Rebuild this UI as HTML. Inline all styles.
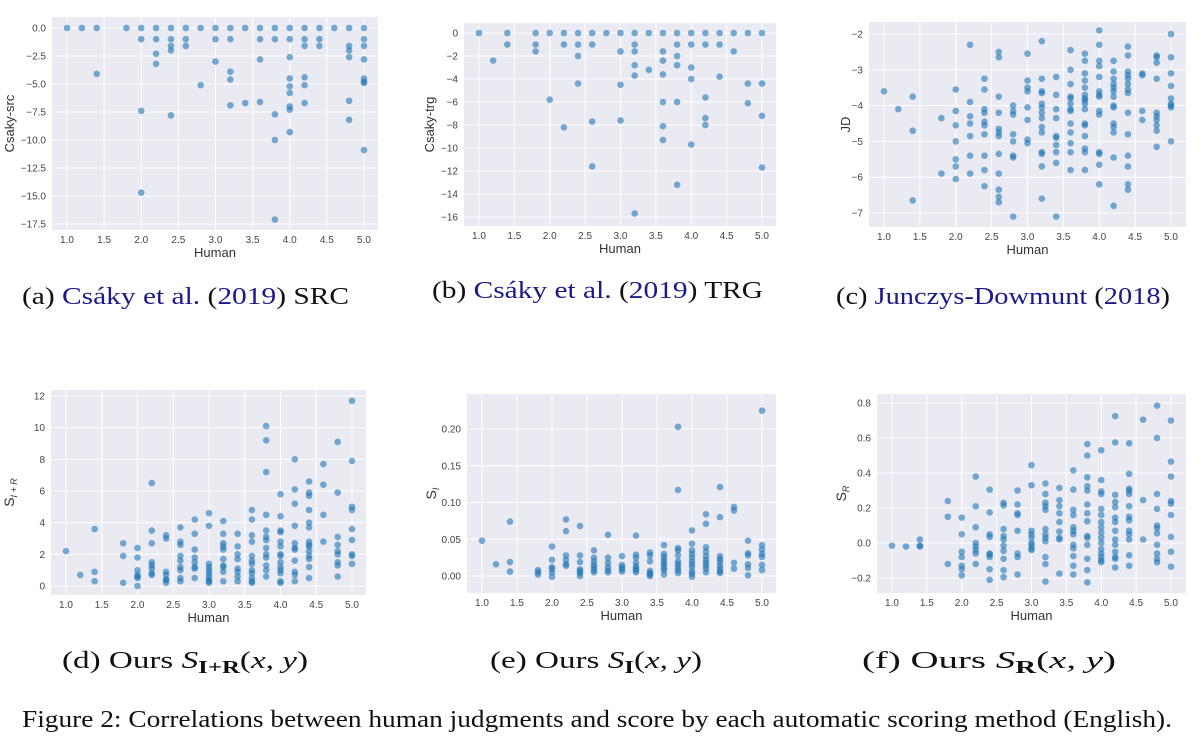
<!DOCTYPE html>
<html><head><meta charset="utf-8"><style>
html,body{margin:0;padding:0;background:#fff;}
svg{display:block;}
.tick{font-family:"Liberation Sans",sans-serif;font-size:10px;fill:#444;}
.axt{font-family:"Liberation Sans",sans-serif;font-size:13px;fill:#333;}
.cap{font-family:"Liberation Serif",serif;font-size:24px;fill:#111;}
.lnk{fill:#1a1a8a;}
</style></head><body>
<svg id="fig" width="1200" height="742" viewBox="0 0 1200 742" xmlns="http://www.w3.org/2000/svg">
<g id="panels"></g>
<text class="cap" x="22" y="304" textLength="327" lengthAdjust="spacingAndGlyphs">(a) <tspan class="lnk">Csáky et al.</tspan> (<tspan class="lnk">2019</tspan>) SRC</text>
<text class="cap" x="432" y="298" textLength="331" lengthAdjust="spacingAndGlyphs">(b) <tspan class="lnk">Csáky et al.</tspan> (<tspan class="lnk">2019</tspan>) TRG</text>
<text class="cap" x="836" y="304" textLength="334" lengthAdjust="spacingAndGlyphs">(c) <tspan class="lnk">Junczys-Dowmunt</tspan> (<tspan class="lnk">2018</tspan>)</text>
<text class="cap" x="62" y="668" font-size="26" textLength="246" lengthAdjust="spacingAndGlyphs">(d)  Ours <tspan font-style="italic">S</tspan><tspan font-size="18" dy="5" font-weight="bold">I+R</tspan><tspan dy="-5">(</tspan><tspan font-style="italic">x, y</tspan>)</text>
<text class="cap" x="490" y="668" font-size="26" textLength="212" lengthAdjust="spacingAndGlyphs">(e)  Ours <tspan font-style="italic">S</tspan><tspan font-size="18" dy="5" font-weight="bold">I</tspan><tspan dy="-5">(</tspan><tspan font-style="italic">x, y</tspan>)</text>
<text class="cap" x="862" y="668" font-size="26" textLength="254" lengthAdjust="spacingAndGlyphs">(f)  Ours <tspan font-style="italic">S</tspan><tspan font-size="18" dy="5" font-weight="bold">R</tspan><tspan dy="-5">(</tspan><tspan font-style="italic">x, y</tspan>)</text>
<text class="cap" x="22" y="727" font-size="21" textLength="1150" lengthAdjust="spacingAndGlyphs">Figure 2: Correlations between human judgments and score by each automatic scoring method (English).</text>
</svg>
<script>
const humanCols = [1.0,1.2,1.4,1.8,2.0,2.2,2.4,2.6,2.8,3.0,3.2,3.4,3.6,3.8,4.0,4.2,4.4,4.6,4.8,5.0];
const xTicks = [1.0,1.5,2.0,2.5,3.0,3.5,4.0,4.5,5.0];
const scoresA = [[0],[0],[0,-4.1],[0],[0,-1,-7.4,-14.7],[0,-1,-2.3,-3.2],[0,-1,-1.6,-2.0,-7.8],[0,-1,-1.6],[0,-5.1],[0,-1,-3.0],[0,-1,-3.9,-4.6,-6.9],[0,-6.7],[0,-1,-2.8,-6.6],[0,-1,-7.7,-10.0,-17.1],[0,-1,-2.6,-4.5,-5.2,-5.8,-7.0,-7.3,-9.3],[0,-1,-1.6,-4.4,-5.1,-6.7],[0,-1,-1.6],[0],[0,-1.6,-2.0,-2.6,-6.5,-8.2],[0,-1,-1.6,-2.8,-4.5,-4.8,-4.9,-10.9]];
const yTicksA = [0,-2.5,-5,-7.5,-10,-12.5,-15,-17.5];
const scoresB = [[0],[-2.4],[0,-1],[0,-1,-1.6],[0,-5.8],[0,-1,-8.2],[0,-1,-2,-4.4],[0,-1,-7.7,-11.6],[0],[0,-1.6,-4.5,-7.6],[0,-1,-1.6,-2.8,-3.7,-15.7],[0,-3.2],[0,-1.6,-2.4,-3.6,-6.0,-8.1,-9.3],[0,-1,-2,-2.8,-6.0,-13.2],[0,-1,-3,-4,-9.7],[0,-1,-5.6,-7.4,-8.0],[0,-1,-3.8],[0,-1.6],[0,-4.4,-6.1],[0,-4.4,-7.2,-11.7]];
const yTicksB = [0,-2,-4,-6,-8,-10,-12,-14,-16];
const scoresC = [[-3.6],[-4.1],[-3.75,-4.7,-6.65],[-4.35,-5.9],[-3.55,-4.15,-4.55,-5.0,-5.5,-5.7,-6.05],[-2.3,-3.9,-4.3,-4.5,-4.85,-5.4,-5.9],[-3.25,-3.55,-4.1,-4.2,-4.45,-4.55,-4.8,-5.4,-5.8,-6.25],[-2.5,-2.65,-3.75,-4.2,-4.65,-4.75,-4.85,-5.35,-5.9,-6.35,-6.55,-6.7],[-4.0,-4.15,-4.25,-4.8,-5.0,-5.4,-5.45,-7.1],[-2.55,-3.3,-3.5,-3.6,-4.05,-4.4,-4.95,-5.05],[-2.2,-3.25,-3.6,-3.65,-3.95,-4.05,-4.2,-4.35,-4.6,-4.75,-5.3,-5.35,-5.7,-6.6],[-3.2,-3.7,-4.1,-4.35,-4.85,-4.9,-5.1,-5.3,-5.6,-7.1],[-2.45,-3.0,-3.4,-3.75,-3.8,-3.95,-4.1,-4.15,-4.5,-4.75,-5.05,-5.3,-5.8],[-2.55,-2.75,-3.1,-3.3,-3.5,-3.7,-3.8,-3.85,-3.95,-4.1,-4.5,-4.55,-4.85,-5.2,-5.3,-5.8],[-1.9,-2.3,-2.75,-2.9,-3.2,-3.6,-3.7,-3.75,-4.15,-4.25,-5.3,-5.35,-5.65,-6.2],[-2.75,-3.05,-3.25,-3.4,-3.5,-3.6,-3.75,-4.0,-4.05,-4.5,-4.6,-4.75,-5.45,-6.8],[-2.35,-2.6,-3.05,-3.15,-3.25,-3.4,-3.55,-3.65,-4.2,-4.8,-5.4,-5.7,-6.2,-6.35],[-3.1,-3.15,-4.15,-4.4],[-2.6,-2.65,-2.8,-3.25,-4.2,-4.3,-4.4,-4.55,-4.7,-5.15],[-2.0,-2.65,-3.1,-3.45,-3.8,-3.95,-4.0,-4.05,-5.0]];
const yTicksC = [-2,-3,-4,-5,-6,-7];
const scoresD = [[2.2],[0.7],[3.6,0.9,0.3],[2.7,1.9,0.2],[2.4,1.8,1.0,0.7,0.6,0.5,0.0],[6.5,3.5,2.7,1.5,1.3,1.1,0.8,0.7],[3.2,3.0,0.9,0.7,0.4,0.4,0.2],[3.7,2.8,2.6,1.9,1.6,1.2,1.0,0.5,0.3],[4.2,3.3,2.3,1.8,1.5,1.2,1.1,0.5],[4.6,3.8,1.4,1.2,1.0,0.8,0.6,0.4,0.3,0.2],[4.1,3.3,2.7,2.5,2.3,1.7,1.3,1.2,0.9,0.3],[3.3,2.5,2.0,1.7,1.1,0.9,0.6,0.3],[4.8,4.2,3.2,2.8,1.9,1.6,1.4,1.0,0.8,0.5,0.3,0.2],[10.1,9.2,7.2,4.5,3.5,3.1,2.9,2.4,2.0,1.8,1.3,1.0,0.6],[5.8,4.4,3.5,3.4,2.8,2.5,2.0,1.9,1.5,1.2,1.0,0.8,0.3,0.2],[8.0,6.1,5.2,3.8,2.7,2.4,2.3,1.6,0.9,0.7,0.3],[6.6,5.9,5.7,4.8,4.0,3.7,2.8,2.6,2.5,2.2,1.9,1.7,1.2,0.5],[7.7,6.4,4.5,2.8],[9.1,5.9,3.1,2.6,2.2,2.0,1.5,1.3,0.6],[11.7,7.9,5.0,4.8,3.6,2.9,2.0,1.9,1.4]];
const yTicksD = [0,2,4,6,8,10,12];
const scoresE = [[0.048],[0.016],[0.074,0.019,0.006],[0.008,0.005,0.002],[0.040,0.022,0.012,0.010,0.005,-0.001],[0.077,0.061,0.028,0.022,0.016,0.014],[0.068,0.028,0.019,0.009,0.007,0.004,0.000],[0.035,0.025,0.020,0.015,0.012,0.008,0.005],[0.056,0.025,0.018,0.012,0.008,0.005],[0.027,0.015,0.012,0.009,0.006],[0.055,0.029,0.025,0.018,0.013,0.010,0.008,0.005],[0.032,0.028,0.020,0.007,0.004,0.002,0.000],[0.042,0.030,0.026,0.022,0.018,0.015,0.011,0.008,0.002],[0.203,0.117,0.038,0.035,0.028,0.020,0.016,0.012,0.008,0.004],[0.062,0.044,0.035,0.030,0.025,0.020,0.016,0.012,0.006,0.003,-0.001],[0.084,0.071,0.039,0.033,0.027,0.022,0.018,0.014,0.010,0.005],[0.121,0.080,0.027,0.023,0.019,0.014,0.010,0.006,0.004],[0.094,0.089,0.018,0.010],[0.048,0.031,0.028,0.016,0.011,0.001],[0.225,0.042,0.036,0.030,0.026,0.015,0.008]];
const yTicksE = [0,0.05,0.10,0.15,0.20];
const scoresF = [[-0.015],[-0.02],[0.02,-0.015,-0.02],[0.24,0.15,-0.12],[0.145,0.05,-0.05,-0.08,-0.13,-0.15,-0.185],[0.38,0.21,0.09,0.0,-0.02,-0.04,-0.06,-0.12],[0.305,0.175,0.05,0.035,-0.06,-0.065,-0.08,-0.15,-0.21],[0.23,0.215,0.08,0.04,0.02,-0.015,-0.045,-0.09,-0.155,-0.195],[0.30,0.22,0.17,0.16,0.07,-0.06,-0.08,-0.18],[0.445,0.33,0.07,0.05,0.03,0.0,-0.01,-0.03,-0.04],[0.34,0.28,0.23,0.21,0.19,0.08,0.05,0.03,0.01,-0.08,-0.12,-0.22],[0.315,0.245,0.21,0.17,0.12,0.065,0.03,0.02,-0.175],[0.415,0.305,0.19,0.16,0.09,0.07,0.05,-0.01,-0.03,-0.075,-0.13,-0.18],[0.565,0.50,0.375,0.325,0.30,0.22,0.17,0.125,0.04,0.03,-0.01,-0.09,-0.155,-0.225],[0.53,0.36,0.295,0.28,0.195,0.16,0.12,0.09,0.06,0.03,0.0,-0.035,-0.06,-0.08,-0.1,-0.11],[0.725,0.575,0.275,0.235,0.205,0.145,0.12,0.07,0.02,-0.01,-0.05,-0.08,-0.09,-0.14],[0.57,0.395,0.31,0.3,0.28,0.21,0.15,0.13,0.07,0.05,0.02,-0.07,-0.13],[0.705,0.245,0.02],[0.785,0.60,0.28,0.195,0.10,0.085,0.055,-0.01,-0.06,-0.09,-0.11],[0.70,0.465,0.38,0.24,0.225,0.16,0.035,-0.05,-0.135]];
const yTicksF = [-0.2,0,0.2,0.4,0.6,0.8];

const NS = "http://www.w3.org/2000/svg";
function mk(tag, attrs, parent){const e=document.createElementNS(NS,tag);for(const k in attrs)e.setAttribute(k,attrs[k]);parent.appendChild(e);return e;}
const panels = [
 {id:'a', scores:scoresA, yt:yTicksA, fmt:v=>v.toFixed(1).replace('-','−'), label:'Csaky-src', box:[52,17,378,230], xm:[67,364], ym:[0,28,-17.5,224]},
 {id:'b', scores:scoresB, yt:yTicksB, fmt:v=>String(v).replace('-','−'), label:'Csaky-trg', box:[464,23,776,226], xm:[479,762], ym:[0,33,-16,217]},
 {id:'c', scores:scoresC, yt:yTicksC, fmt:v=>String(v).replace('-','−'), label:'JD', box:[869,22,1186,227], xm:[884,1171], ym:[-2,34,-7,213]},
 {id:'d', scores:scoresD, yt:yTicksD, fmt:v=>String(v), label:'SIR', box:[51,390,366,595], xm:[66,352], ym:[0,586,12,396]},
 {id:'e', scores:scoresE, yt:yTicksE, fmt:v=>v.toFixed(2), label:'SI', box:[467,394,776,593], xm:[482,762], ym:[0,576,0.2,429]},
 {id:'f', scores:scoresF, yt:yTicksF, fmt:v=>v.toFixed(1).replace('-','−'), label:'SR', box:[877,394,1186,593], xm:[892,1171], ym:[0,543,0.8,403]}
];
const root = document.getElementById('panels');
panels.forEach(p=>{
  const g = mk('g',{},root);
  
  
  const [x0,y0,x1,y1]=p.box;
  const sx=v=>p.xm[0]+(v-1)*(p.xm[1]-p.xm[0])/4;
  const sy=v=>p.ym[1]+(v-p.ym[0])*(p.ym[3]-p.ym[1])/(p.ym[2]-p.ym[0]);
  const bg=mk('rect',{x:x0,y:y0,width:x1-x0,height:y1-y0,fill:'#eaeaf2'},g);
  
  
  xTicks.forEach(t=>{
    mk('line',{x1:sx(t),x2:sx(t),y1:y0,y2:y1,stroke:'#fff','stroke-width':1},g);
    const tl=mk('text',{x:sx(t),y:y1+13,'text-anchor':'middle',class:'tick'},g);
    tl.textContent=t.toFixed(1);
    
    
  });
  p.yt.forEach(t=>{
    mk('line',{x1:x0,x2:x1,y1:sy(t),y2:sy(t),stroke:'#fff','stroke-width':1},g);
    const tl=mk('text',{x:x0-6,y:sy(t)+3.5,'text-anchor':'end',class:'tick'},g);
    tl.textContent=p.fmt(t);
    
    
  });
  humanCols.forEach((h,i)=>{
    p.scores[i].forEach(v=>{
      const c=mk('circle',{cx:sx(h),cy:sy(v),r:3.3,fill:'#1f77b4','fill-opacity':0.6},g);
      
      
    });
  });
  const xl=mk('text',{x:(x0+x1)/2,y:y1+27,'text-anchor':'middle',class:'axt'},g);
  xl.textContent='Human';
  
  
  const lx = p.id==='a'?14:(p.id==='b'?434:(p.id==='c'?850:(p.id==='d'?14:(p.id==='e'?436:846))));
  const cy=(y0+y1)/2;
  const yl=mk('text',{x:lx,y:cy,'text-anchor':'middle',class:'axt',transform:'rotate(-90 '+lx+' '+cy+')'},g);
  
  
  if(p.label==='SIR'||p.label==='SI'||p.label==='SR'){
    const s=mk('tspan',{'font-size':'14'},yl); s.textContent='S';
    const sub=mk('tspan',{'font-size':'9','font-style':'italic',dy:'3'},yl);
    sub.textContent=p.label==='SIR'?'I + R':(p.label==='SI'?'I':'R');
  } else { yl.textContent=p.label; }
});
</script>
</body></html>
